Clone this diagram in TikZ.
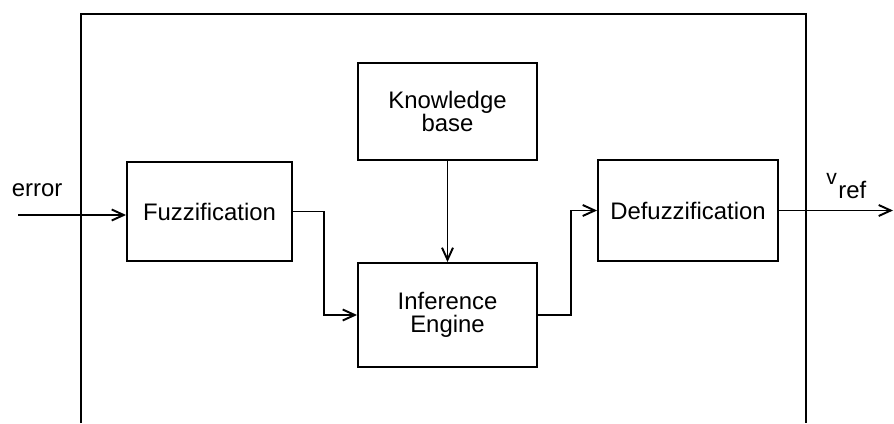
\documentclass[tikz,border=0pt]{standalone}
\usepackage{fontspec}
\setmainfont{Liberation Sans}
\usepackage{tikz}
\usetikzlibrary{arrows.meta, positioning, calc}

\begin{document}
\begin{tikzpicture}[
    font=\fontsize{13.6}{13.4}\selectfont,
    block/.style={
        draw=black,
        rectangle,
        align=center,
        inner sep=0pt,
        line width=1.1pt
    },
    frame/.style={
        draw=black,
        line width=1.1pt
    },
    arrow/.style={
        -{Straight Barb[length=2.4mm,width=2.2mm]},
        line width=1.1pt,
        draw=black
    },
    label/.style={
        inner sep=0pt
    }
]

\useasboundingbox (0,0) rectangle (17.88,8.46);

% ============================================================
% Controller frame (open at the bottom)
% ============================================================

\draw[frame] (1.62,0) -- (1.62,8.18) -- (16.12,8.18) -- (16.12,0);

% ============================================================
% Blocks
% ============================================================

\node[block, minimum width=3.30cm, minimum height=1.98cm] (fuzz)   at (4.19,4.23)  {Fuzzification};
\node[block, minimum width=3.58cm, minimum height=1.94cm] (know)   at (8.95,6.23)  {Knowledge\\base};
\node[block, minimum width=3.58cm, minimum height=2.08cm] (infer)  at (8.95,2.16)  {Inference\\Engine};
\node[block, minimum width=3.60cm, minimum height=2.02cm] (defuzz) at (13.76,4.25) {Defuzzification};

\coordinate (in)  at (0.36,4.16);
\coordinate (out) at (17.86,4.24);

% ============================================================
% Signal flow
% ============================================================

\draw[arrow] (in) -- (in -| fuzz.west);
\draw[arrow] (fuzz.east) -- ++(0.62,0) |- (infer.west);
\draw[arrow] (know.south) -- (infer.north);
\draw[arrow] (infer.east) -- ++(0.66,0) |- (defuzz.west);
\draw[arrow] (defuzz.east) -- (defuzz.east -| out);

\node[label, anchor=base west] (err)  at (0.23,4.53) {error};
\node[label, anchor=base west] (vref) at (16.52,4.48)
    {\raisebox{0.6em}{\fontsize{12}{12}\selectfont v}\hspace{0.06em}ref};
\end{tikzpicture}
\end{document}
